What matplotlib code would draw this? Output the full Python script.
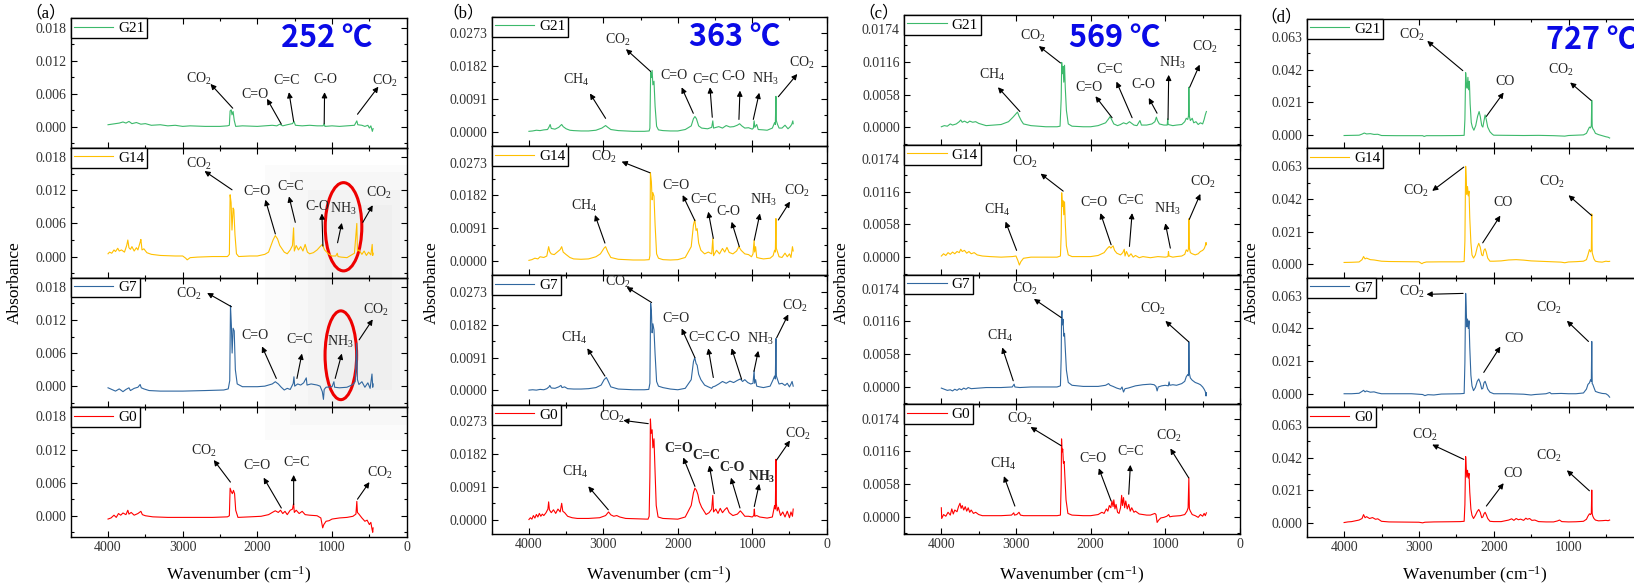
import numpy as np
import matplotlib
matplotlib.use("Agg")
import matplotlib.pyplot as plt
from matplotlib.patches import Ellipse, Rectangle
from matplotlib.ticker import MultipleLocator, FormatStrFormatter, FuncFormatter

plt.rcParams['font.family'] = ['Liberation Serif', 'Noto Sans CJK SC']
plt.rcParams['mathtext.fontset'] = 'custom'
plt.rcParams['mathtext.rm'] = 'Liberation Serif'
plt.rcParams['mathtext.it'] = 'Liberation Serif:italic'
plt.rcParams['mathtext.bf'] = 'Liberation Serif:bold'

# ---------------- spectra (wavenumber, absorbance) ----------------
# (a) 252 C
a_G21 = [(4000,0.0004),(3950,0.0005),(3900,0.0006),(3850,0.0007),(3800,0.0009),(3760,0.0007),(3720,0.0010),(3680,0.0006),(3620,0.0008),(3560,0.0005),(3500,0.0006),(3420,0.0003),(3300,0.0004),(3200,0.0002),(3100,0.0003),(3000,0.0001),(2900,0.0002),(2700,0.0001),(2500,0.0001),(2400,0.0002),(2375,0.0003),(2365,0.0029),(2350,0.0031),(2340,0.0022),(2325,0.0028),(2310,0.0012),(2290,0.0001),(2200,0.0002),(2000,0.0001),(1900,0.0002),(1800,0.0003),(1740,0.0002),(1700,0.0005),(1660,0.0002),(1600,0.0004),(1530,0.0006),(1510,0.0010),(1490,0.0003),(1400,0.0002),(1300,0.0003),(1200,0.0002),(1120,0.0002),(1105,0.0006),(1095,0.0001),(1000,0.0002),(900,0.0001),(800,0.0002),(700,0.0003),(668,0.0011),(655,0.0004),(600,0.0003),(560,0.0001),(520,0.0003),(500,-0.0002),(480,0.0002),(460,-0.0008),(450,-0.0003)]
a_G14 = [(4000,0.0005),(3980,0.0008),(3950,0.0006),(3920,0.0012),(3900,0.0009),(3870,0.0015),(3850,0.0010),(3820,0.0012),(3780,0.0008),(3750,0.0020),(3735,0.0030),(3720,0.0016),(3700,0.0013),(3680,0.0018),(3650,0.0010),(3620,0.0016),(3600,0.0012),(3570,0.0026),(3560,0.0031),(3545,0.0012),(3520,0.0014),(3480,0.0007),(3420,0.0004),(3300,0.0002),(3100,0.0001),(3000,0.0001),(2960,-0.0003),(2940,-0.0006),(2900,-0.0002),(2800,-0.0001),(2600,0.0000),(2400,0.0000),(2375,0.0004),(2365,0.0112),(2352,0.0098),(2340,0.0048),(2325,0.0088),(2315,0.0085),(2300,0.0040),(2280,0.0005),(2250,0.0000),(2100,0.0001),(2000,0.0001),(1900,0.0004),(1850,0.0008),(1790,0.0030),(1760,0.0038),(1730,0.0032),(1700,0.0020),(1670,0.0014),(1640,0.0008),(1600,0.0005),(1560,0.0012),(1530,0.0020),(1515,0.0052),(1505,0.0010),(1480,0.0020),(1450,0.0012),(1420,0.0018),(1390,0.0010),(1360,0.0022),(1330,0.0008),(1300,0.0005),(1250,0.0007),(1200,0.0012),(1160,0.0018),(1130,0.0022),(1100,0.0012),(1050,0.0005),(1000,0.0001),(950,0.0001),(930,0.0006),(920,0.0000),(880,-0.0001),(800,-0.0002),(750,0.0002),(700,0.0006),(668,0.0060),(660,0.0010),(640,0.0012),(600,0.0004),(570,0.0010),(540,0.0002),(510,0.0008),(480,0.0003),(462,0.0022),(455,0.0002),(450,0.0006)]
a_G7 = [(4000,-0.0003),(3950,-0.0006),(3900,-0.0009),(3850,-0.0005),(3800,-0.0010),(3760,-0.0006),(3720,-0.0003),(3700,-0.0008),(3650,-0.0004),(3600,-0.0002),(3570,0.0003),(3555,-0.0003),(3520,-0.0005),(3450,-0.0008),(3300,-0.0009),(3000,-0.0009),(2700,-0.0008),(2450,-0.0007),(2390,-0.0005),(2370,0.0010),(2360,0.0146),(2348,0.0110),(2338,0.0060),(2325,0.0105),(2310,0.0100),(2295,0.0030),(2270,0.0004),(2200,-0.0001),(2000,-0.0001),(1900,0.0000),(1800,0.0004),(1760,0.0008),(1720,0.0004),(1680,-0.0002),(1640,-0.0007),(1600,-0.0004),(1560,-0.0006),(1520,0.0005),(1510,0.0017),(1500,0.0000),(1460,0.0004),(1420,0.0002),(1380,0.0006),(1345,0.0015),(1335,0.0002),(1280,0.0004),(1200,0.0002),(1160,0.0000),(1130,-0.0010),(1115,-0.0024),(1105,-0.0006),(1080,-0.0002),(1000,-0.0001),(975,0.0008),(965,-0.0002),(900,-0.0003),(800,-0.0002),(720,0.0003),(690,0.0008),(668,0.0078),(660,0.0012),(640,0.0003),(600,0.0008),(560,-0.0002),(520,0.0006),(490,-0.0004),(465,0.0022),(455,-0.0002),(450,0.0004)]
a_G0 = [(4000,-0.0006),(3960,-0.0004),(3920,0.0001),(3890,-0.0003),(3860,0.0004),(3830,0.0001),(3800,0.0005),(3760,0.0002),(3735,0.0010),(3720,0.0003),(3690,0.0006),(3650,0.0001),(3600,0.0004),(3560,0.0008),(3540,0.0002),(3500,0.0000),(3400,-0.0002),(3200,-0.0003),(3000,-0.0003),(2800,-0.0003),(2600,-0.0003),(2400,-0.0002),(2375,0.0000),(2365,0.0050),(2350,0.0044),(2335,0.0040),(2320,0.0046),(2305,0.0040),(2290,0.0010),(2260,-0.0003),(2100,-0.0002),(1950,-0.0001),(1850,0.0002),(1800,0.0006),(1760,0.0009),(1720,0.0006),(1690,0.0010),(1660,0.0004),(1630,0.0008),(1600,0.0002),(1560,0.0010),(1530,0.0012),(1515,0.0022),(1505,0.0006),(1480,0.0010),(1440,0.0004),(1400,0.0008),(1360,0.0002),(1300,0.0001),(1200,0.0000),(1150,-0.0004),(1125,-0.0022),(1110,-0.0016),(1080,-0.0010),(1040,-0.0009),(1000,-0.0006),(950,-0.0005),(900,-0.0004),(800,-0.0003),(720,-0.0001),(680,0.0003),(668,0.0026),(660,0.0006),(640,0.0003),(600,-0.0004),(560,-0.0010),(530,-0.0008),(500,-0.0016),(480,-0.0012),(465,-0.0024),(455,-0.0030),(450,-0.0022)]

# (b) 363 C
b_G21 = [(4000,0.0001),(3950,0.0002),(3900,0.0004),(3850,0.0003),(3800,0.0005),(3750,0.0006),(3730,0.0013),(3715,0.0020),(3700,0.0009),(3650,0.0007),(3600,0.0012),(3560,0.0020),(3540,0.0014),(3500,0.0008),(3450,0.0004),(3400,0.0003),(3300,0.0002),(3200,0.0002),(3100,0.0004),(3020,0.0010),(2970,0.0017),(2940,0.0012),(2900,0.0006),(2800,0.0003),(2600,0.0001),(2450,0.0001),(2385,0.0002),(2375,0.0010),(2365,0.0165),(2355,0.0150),(2345,0.0170),(2335,0.0130),(2320,0.0140),(2305,0.0070),(2285,0.0015),(2260,0.0005),(2200,0.0003),(2100,0.0002),(2000,0.0002),(1900,0.0006),(1820,0.0016),(1790,0.0036),(1770,0.0042),(1750,0.0036),(1720,0.0016),(1680,0.0010),(1600,0.0008),(1545,0.0012),(1530,0.0030),(1520,0.0010),(1450,0.0014),(1400,0.0010),(1350,0.0017),(1300,0.0013),(1250,0.0014),(1200,0.0018),(1170,0.0022),(1140,0.0016),(1100,0.0010),(1050,0.0011),(1000,0.0007),(985,0.0010),(975,0.0030),(965,0.0012),(940,0.0020),(920,0.0006),(850,0.0005),(800,0.0004),(730,0.0010),(700,0.0025),(690,0.0020),(682,0.0098),(676,0.0030),(660,0.0020),(640,0.0010),(600,0.0010),(560,0.0018),(520,0.0008),(490,0.0014),(470,0.0020),(455,0.0030),(450,0.0022)]
b_G14 = [(4000,0.0002),(3960,0.0004),(3920,0.0008),(3880,0.0006),(3850,0.0012),(3800,0.0010),(3760,0.0014),(3735,0.0040),(3720,0.0026),(3700,0.0020),(3660,0.0018),(3620,0.0025),(3580,0.0032),(3560,0.0040),(3540,0.0025),(3500,0.0018),(3450,0.0010),(3400,0.0006),(3300,0.0005),(3200,0.0006),(3100,0.0012),(3040,0.0020),(2990,0.0036),(2970,0.0040),(2940,0.0025),(2900,0.0010),(2800,0.0005),(2600,0.0003),(2450,0.0003),(2385,0.0004),(2375,0.0015),(2368,0.0245),(2355,0.0220),(2345,0.0170),(2335,0.0190),(2320,0.0180),(2305,0.0100),(2285,0.0020),(2260,0.0008),(2200,0.0004),(2100,0.0003),(2000,0.0004),(1900,0.0010),(1820,0.0040),(1790,0.0100),(1772,0.0115),(1755,0.0085),(1740,0.0090),(1720,0.0050),(1690,0.0030),(1640,0.0020),(1590,0.0025),(1545,0.0020),(1530,0.0063),(1520,0.0015),(1480,0.0030),(1440,0.0020),(1400,0.0035),(1370,0.0025),(1340,0.0038),(1310,0.0024),(1260,0.0020),(1210,0.0028),(1180,0.0040),(1150,0.0030),(1100,0.0020),(1050,0.0018),(1010,0.0012),(990,0.0020),(975,0.0058),(968,0.0025),(955,0.0040),(940,0.0010),(900,0.0008),(850,0.0006),(760,0.0008),(720,0.0015),(700,0.0030),(690,0.0025),(682,0.0118),(676,0.0035),(660,0.0025),(640,0.0012),(600,0.0010),(560,0.0022),(530,0.0012),(500,0.0020),(480,0.0010),(460,0.0040),(450,0.0028)]
b_G7 = [(4000,0.0001),(3950,0.0002),(3900,0.0001),(3850,0.0003),(3800,0.0002),(3760,0.0005),(3730,0.0010),(3720,0.0014),(3700,0.0007),(3650,0.0006),(3600,0.0010),(3570,0.0014),(3555,0.0008),(3520,0.0010),(3480,0.0005),(3400,0.0004),(3300,0.0004),(3200,0.0005),(3100,0.0008),(3030,0.0015),(2990,0.0030),(2960,0.0036),(2940,0.0028),(2900,0.0010),(2800,0.0004),(2600,0.0002),(2450,0.0002),(2390,0.0003),(2375,0.0020),(2365,0.0242),(2355,0.0220),(2345,0.0160),(2335,0.0185),(2320,0.0168),(2305,0.0100),(2285,0.0025),(2260,0.0012),(2200,0.0008),(2100,0.0004),(2000,0.0002),(1900,0.0006),(1820,0.0030),(1790,0.0080),(1772,0.0091),(1755,0.0075),(1740,0.0070),(1720,0.0045),(1690,0.0030),(1640,0.0015),(1590,0.0010),(1545,0.0006),(1530,0.0010),(1500,0.0012),(1450,0.0018),(1400,0.0025),(1350,0.0020),(1300,0.0026),(1250,0.0022),(1200,0.0028),(1160,0.0032),(1130,0.0025),(1100,0.0030),(1060,0.0022),(1020,0.0018),(990,0.0020),(975,0.0055),(968,0.0020),(955,0.0030),(940,0.0012),(900,0.0010),(850,0.0008),(760,0.0012),(720,0.0030),(700,0.0040),(690,0.0032),(682,0.0144),(676,0.0040),(660,0.0030),(640,0.0018),(600,0.0020),(560,0.0014),(530,0.0020),(500,0.0010),(480,0.0018),(465,0.0025),(450,0.0012)]
b_G0 = [(4000,0.0001),(3980,0.0006),(3960,0.0002),(3940,0.0012),(3920,0.0005),(3900,0.0015),(3880,0.0008),(3860,0.0018),(3840,0.0010),(3820,0.0016),(3800,0.0012),(3770,0.0020),(3745,0.0030),(3735,0.0050),(3725,0.0028),(3700,0.0020),(3670,0.0028),(3640,0.0018),(3610,0.0030),(3580,0.0022),(3560,0.0046),(3545,0.0024),(3520,0.0020),(3480,0.0010),(3420,0.0006),(3350,0.0004),(3200,0.0004),(3050,0.0006),(2970,0.0012),(2930,0.0022),(2900,0.0014),(2860,0.0010),(2820,0.0012),(2780,0.0008),(2700,0.0004),(2550,0.0003),(2400,0.0002),(2385,0.0010),(2375,0.0120),(2368,0.0280),(2358,0.0240),(2345,0.0250),(2335,0.0200),(2320,0.0225),(2305,0.0130),(2290,0.0040),(2265,0.0008),(2200,0.0004),(2100,0.0003),(2000,0.0002),(1900,0.0008),(1820,0.0040),(1790,0.0075),(1770,0.0088),(1750,0.0082),(1730,0.0070),(1710,0.0050),(1680,0.0035),(1650,0.0025),(1620,0.0015),(1580,0.0020),(1545,0.0030),(1530,0.0068),(1520,0.0022),(1490,0.0030),(1460,0.0018),(1430,0.0032),(1400,0.0020),(1370,0.0028),(1340,0.0034),(1310,0.0020),(1260,0.0012),(1200,0.0016),(1160,0.0025),(1130,0.0018),(1100,0.0010),(1050,0.0010),(1000,0.0008),(980,0.0012),(972,0.0030),(965,0.0010),(940,0.0012),(900,0.0008),(800,0.0005),(730,0.0008),(700,0.0040),(690,0.0030),(682,0.0168),(676,0.0045),(665,0.0025),(650,0.0035),(620,0.0012),(590,0.0022),(560,0.0008),(530,0.0024),(500,0.0006),(480,0.0022),(460,0.0010),(450,0.0030)]

# (c) 569 C
c_G21 = [(4000,0.0001),(3960,0.0003),(3920,0.0002),(3880,0.0006),(3850,0.0004),(3800,0.0006),(3760,0.0010),(3740,0.0013),(3720,0.0009),(3690,0.0011),(3650,0.0008),(3620,0.0011),(3580,0.0009),(3540,0.0010),(3500,0.0007),(3450,0.0005),(3400,0.0003),(3300,0.0004),(3200,0.0005),(3100,0.0010),(3040,0.0018),(3000,0.0024),(2980,0.0027),(2960,0.0020),(2930,0.0012),(2900,0.0006),(2800,0.0003),(2600,0.0001),(2450,0.0001),(2410,0.0002),(2395,0.0050),(2388,0.0115),(2378,0.0095),(2370,0.0108),(2360,0.0080),(2350,0.0110),(2340,0.0070),(2325,0.0030),(2300,0.0006),(2250,0.0002),(2100,0.0001),(2000,0.0001),(1900,0.0003),(1800,0.0008),(1760,0.0015),(1740,0.0019),(1720,0.0014),(1690,0.0006),(1640,0.0003),(1600,0.0005),(1560,0.0008),(1520,0.0006),(1480,0.0010),(1460,0.0008),(1420,0.0004),(1380,0.0003),(1340,0.0012),(1320,0.0004),(1250,0.0004),(1180,0.0006),(1140,0.0010),(1120,0.0018),(1105,0.0012),(1080,0.0006),(1020,0.0004),(975,0.0004),(968,0.0015),(962,0.0005),(900,0.0003),(850,0.0004),(780,0.0005),(740,0.0010),(720,0.0016),(700,0.0014),(690,0.0020),(685,0.0071),(678,0.0020),(665,0.0012),(640,0.0016),(620,0.0008),(590,0.0010),(560,0.0005),(530,0.0008),(500,0.0006),(480,0.0014),(465,0.0022),(450,0.0028)]
c_G14 = [(4000,0.0002),(3970,0.0006),(3940,0.0003),(3910,0.0008),(3880,0.0005),(3850,0.0009),(3820,0.0006),(3790,0.0010),(3760,0.0008),(3740,0.0014),(3720,0.0010),(3690,0.0012),(3660,0.0007),(3630,0.0010),(3600,0.0006),(3560,0.0008),(3520,0.0004),(3450,0.0002),(3350,0.0001),(3200,0.0000),(3050,0.0001),(3000,0.0002),(2975,-0.0006),(2955,-0.0014),(2935,-0.0008),(2900,-0.0002),(2800,0.0000),(2600,0.0000),(2450,0.0000),(2405,0.0002),(2395,0.0040),(2388,0.0114),(2378,0.0090),(2370,0.0100),(2360,0.0075),(2350,0.0098),(2340,0.0060),(2325,0.0020),(2300,0.0004),(2250,0.0001),(2100,0.0001),(2000,0.0001),(1900,0.0003),(1820,0.0008),(1780,0.0015),(1750,0.0019),(1730,0.0016),(1700,0.0020),(1680,0.0012),(1650,0.0007),(1600,0.0004),(1570,0.0008),(1550,0.0014),(1540,0.0002),(1520,0.0010),(1490,0.0001),(1460,0.0006),(1430,0.0000),(1400,0.0003),(1350,-0.0001),(1300,0.0001),(1200,-0.0001),(1100,0.0001),(1000,0.0000),(965,0.0001),(958,0.0010),(950,0.0002),(900,0.0000),(850,0.0001),(780,0.0002),(740,0.0005),(720,0.0013),(700,0.0010),(690,0.0015),(685,0.0068),(678,0.0016),(665,0.0008),(640,0.0006),(600,0.0004),(560,0.0006),(530,0.0010),(500,0.0012),(480,0.0015),(465,0.0020),(455,0.0026),(450,0.0022)]
c_G7 = [(4000,-0.0002),(3960,-0.0004),(3920,-0.0006),(3880,-0.0005),(3850,-0.0007),(3820,-0.0004),(3790,-0.0006),(3760,-0.0003),(3730,-0.0005),(3700,-0.0002),(3670,-0.0004),(3640,-0.0001),(3600,-0.0003),(3500,-0.0002),(3400,-0.0001),(3200,-0.0001),(3050,0.0000),(3025,0.0005),(3015,0.0000),(2950,-0.0001),(2800,0.0000),(2600,0.0000),(2450,0.0000),(2405,0.0002),(2395,0.0050),(2390,0.0126),(2385,0.0135),(2378,0.0110),(2370,0.0120),(2360,0.0090),(2350,0.0095),(2340,0.0068),(2325,0.0030),(2300,0.0008),(2250,0.0003),(2100,0.0001),(2000,0.0001),(1900,0.0001),(1800,0.0003),(1760,0.0006),(1740,0.0003),(1700,0.0001),(1650,-0.0002),(1600,-0.0004),(1580,0.0000),(1560,-0.0009),(1540,-0.0003),(1500,-0.0002),(1450,0.0000),(1400,0.0002),(1300,0.0004),(1200,0.0005),(1150,0.0004),(1125,0.0001),(1110,-0.0007),(1095,0.0000),(1050,0.0002),(1000,0.0003),(960,0.0002),(950,0.0009),(940,0.0003),(900,0.0004),(850,0.0003),(780,0.0006),(740,0.0010),(720,0.0018),(700,0.0022),(690,0.0020),(685,0.0080),(678,0.0024),(665,0.0016),(640,0.0012),(600,0.0008),(560,0.0006),(530,0.0004),(500,0.0000),(480,-0.0004),(465,-0.0008),(455,-0.0016),(450,-0.0010)]
c_G0 = [(4000,0.0016),(3995,-0.0003),(3970,0.0004),(3940,0.0001),(3910,0.0008),(3880,0.0003),(3860,0.0014),(3840,0.0005),(3820,0.0012),(3790,0.0009),(3770,0.0018),(3750,0.0024),(3735,0.0015),(3720,0.0020),(3700,0.0012),(3680,0.0018),(3660,0.0010),(3640,0.0016),(3620,0.0008),(3600,0.0012),(3570,0.0006),(3540,0.0008),(3500,0.0004),(3450,0.0002),(3350,0.0002),(3200,0.0002),(3060,0.0003),(3030,0.0007),(3020,0.0003),(2990,0.0004),(2960,0.0008),(2940,0.0003),(2900,0.0002),(2800,0.0002),(2600,0.0002),(2450,0.0002),(2405,0.0003),(2395,0.0060),(2390,0.0138),(2382,0.0115),(2374,0.0120),(2365,0.0095),(2355,0.0098),(2345,0.0070),(2330,0.0030),(2305,0.0006),(2250,0.0003),(2100,0.0002),(2000,0.0002),(1900,0.0004),(1850,0.0008),(1820,0.0006),(1790,0.0014),(1770,0.0010),(1750,0.0020),(1730,0.0016),(1715,0.0028),(1700,0.0018),(1690,0.0030),(1675,0.0014),(1660,0.0022),(1640,0.0008),(1620,0.0006),(1600,0.0016),(1585,0.0038),(1575,0.0020),(1560,0.0034),(1545,0.0016),(1530,0.0028),(1510,0.0014),(1490,0.0022),(1470,0.0010),(1450,0.0016),(1420,0.0008),(1400,0.0010),(1350,0.0005),(1300,0.0004),(1250,0.0003),(1200,0.0003),(1140,0.0006),(1125,0.0004),(1110,-0.0010),(1090,-0.0006),(1060,-0.0002),(1020,-0.0001),(980,0.0001),(955,0.0004),(940,0.0000),(900,0.0001),(800,0.0002),(740,0.0004),(710,0.0010),(695,0.0016),(685,0.0069),(678,0.0014),(665,0.0010),(640,0.0004),(600,0.0002),(560,-0.0001),(530,0.0004),(500,0.0001),(480,0.0006),(465,0.0002),(450,0.0007)]

# (d) 727 C
d_G21 = [(4000,-0.0004),(3900,-0.0003),(3800,-0.0002),(3760,0.0005),(3730,0.0012),(3700,0.0006),(3650,0.0008),(3600,0.0003),(3550,0.0004),(3500,-0.0004),(3300,-0.0005),(3100,-0.0005),(2950,-0.0005),(2930,-0.0010),(2900,-0.0005),(2700,-0.0005),(2450,-0.0004),(2395,-0.0003),(2385,0.0100),(2375,0.0400),(2365,0.0330),(2355,0.0300),(2345,0.0370),(2335,0.0290),(2325,0.0345),(2315,0.0200),(2300,0.0080),(2285,0.0050),(2265,0.0030),(2240,0.0060),(2215,0.0120),(2195,0.0150),(2180,0.0120),(2160,0.0060),(2145,0.0050),(2130,0.0090),(2115,0.0128),(2100,0.0100),(2080,0.0050),(2050,0.0020),(2020,0.0005),(2000,-0.0002),(1800,-0.0003),(1600,-0.0004),(1400,-0.0003),(1200,-0.0005),(1050,-0.0008),(1000,-0.0004),(900,-0.0002),(800,0.0000),(760,0.0010),(740,0.0030),(720,0.0050),(705,0.0045),(695,0.0060),(689,0.0222),(683,0.0055),(675,0.0040),(660,0.0030),(640,0.0010),(600,0.0002),(550,-0.0005),(500,-0.0012),(470,-0.0015),(450,-0.0020)]
d_G14 = [(4000,0.0012),(3900,0.0013),(3800,0.0015),(3760,0.0030),(3740,0.0050),(3720,0.0035),(3700,0.0040),(3650,0.0030),(3600,0.0028),(3550,0.0024),(3500,0.0020),(3400,0.0018),(3200,0.0017),(3000,0.0016),(2960,0.0004),(2940,0.0010),(2900,0.0015),(2700,0.0016),(2450,0.0016),(2395,0.0018),(2385,0.0150),(2375,0.0630),(2368,0.0560),(2360,0.0450),(2350,0.0500),(2340,0.0440),(2330,0.0470),(2320,0.0300),(2305,0.0140),(2290,0.0060),(2270,0.0040),(2245,0.0060),(2220,0.0110),(2200,0.0135),(2180,0.0110),(2160,0.0060),(2145,0.0055),(2130,0.0090),(2115,0.0100),(2100,0.0080),(2080,0.0040),(2050,0.0020),(2000,0.0020),(1900,0.0022),(1800,0.0028),(1700,0.0030),(1600,0.0027),(1500,0.0022),(1400,0.0020),(1300,0.0018),(1200,0.0016),(1100,0.0014),(1050,0.0010),(1000,0.0015),(900,0.0017),(800,0.0020),(760,0.0030),(740,0.0060),(720,0.0095),(705,0.0080),(695,0.0090),(689,0.0324),(683,0.0075),(675,0.0060),(660,0.0035),(640,0.0020),(600,0.0016),(550,0.0014),(500,0.0020),(470,0.0018),(450,0.0019)]
d_G7 = [(4000,0.0000),(3900,0.0000),(3800,0.0003),(3760,0.0015),(3740,0.0022),(3720,0.0012),(3700,0.0018),(3650,0.0010),(3600,0.0012),(3550,0.0005),(3500,0.0000),(3300,0.0000),(3100,0.0000),(2950,-0.0005),(2920,-0.0012),(2880,-0.0006),(2800,-0.0008),(2700,-0.0002),(2450,0.0000),(2395,0.0002),(2385,0.0200),(2375,0.0645),(2368,0.0560),(2360,0.0430),(2350,0.0480),(2340,0.0420),(2330,0.0469),(2320,0.0300),(2305,0.0120),(2290,0.0050),(2270,0.0020),(2245,0.0040),(2220,0.0080),(2200,0.0095),(2180,0.0070),(2160,0.0030),(2145,0.0035),(2130,0.0070),(2115,0.0080),(2100,0.0060),(2080,0.0030),(2050,0.0010),(2000,0.0000),(1800,0.0000),(1600,-0.0003),(1500,-0.0008),(1450,-0.0005),(1300,0.0000),(1250,0.0008),(1230,0.0000),(1100,0.0002),(1000,0.0000),(900,0.0000),(800,0.0005),(760,0.0030),(740,0.0060),(720,0.0070),(705,0.0090),(695,0.0080),(689,0.0336),(683,0.0065),(675,0.0060),(660,0.0040),(640,0.0015),(600,0.0008),(550,0.0002),(500,0.0000),(470,-0.0010),(450,-0.0022)]
d_G0 = [(4000,0.0004),(3950,0.0008),(3900,0.0010),(3850,0.0015),(3800,0.0020),(3760,0.0030),(3740,0.0055),(3720,0.0035),(3700,0.0042),(3660,0.0030),(3620,0.0036),(3580,0.0025),(3550,0.0028),(3500,0.0012),(3400,0.0008),(3200,0.0007),(3000,0.0006),(2950,0.0002),(2920,0.0006),(2800,0.0008),(2600,0.0009),(2450,0.0010),(2395,0.0012),(2385,0.0120),(2375,0.0428),(2368,0.0360),(2360,0.0296),(2350,0.0340),(2340,0.0290),(2330,0.0320),(2320,0.0200),(2305,0.0090),(2290,0.0050),(2270,0.0030),(2245,0.0050),(2220,0.0075),(2200,0.0088),(2180,0.0070),(2160,0.0035),(2145,0.0040),(2130,0.0060),(2115,0.0070),(2100,0.0055),(2080,0.0030),(2050,0.0012),(2000,0.0010),(1900,0.0010),(1850,0.0015),(1800,0.0020),(1760,0.0028),(1730,0.0018),(1700,0.0030),(1670,0.0022),(1640,0.0026),(1600,0.0018),(1570,0.0032),(1550,0.0025),(1520,0.0030),(1490,0.0018),(1450,0.0020),(1400,0.0010),(1300,0.0008),(1200,0.0008),(1150,0.0014),(1120,0.0020),(1090,0.0010),(1000,0.0008),(900,0.0009),(800,0.0012),(760,0.0025),(740,0.0045),(720,0.0060),(705,0.0055),(695,0.0065),(689,0.0213),(683,0.0060),(675,0.0045),(660,0.0030),(640,0.0020),(600,0.0015),(550,0.0016),(500,0.0018),(470,0.0016),(450,0.0020)]

samples = ['G21', 'G14', 'G7', 'G0']
temps = ['252 ℃', '363 ℃', '569 ℃', '727 ℃']
tags = ['（a）', '（b）', '（c）', '（d）']
spectra = [[a_G21, a_G14, a_G7, a_G0],
           [b_G21, b_G14, b_G7, b_G0],
           [c_G21, c_G14, c_G7, c_G0],
           [d_G21, d_G14, d_G7, d_G0]]

# ---------------- peak labels: (text, text x, text y, peak x, peak y, arrow tip x, arrow tip y, bold) ----------------
CO2, CH4, NH3 = 'CO$_2$', 'CH$_4$', 'NH$_3$'
labels = [
    [  # (a)
        [(CO2, 2784, 0.0087, 2330, 0.0034, 2628, 0.0078), ('C=O', 2027, 0.0059, 1679, 0.0005, 1871, 0.0051),
         ('C=C', 1612, 0.0084, 1514, 0.0010, 1577, 0.0063), ('C-O', 1091, 0.0086, 1105, 0.0006, 1100, 0.0063),
         (CO2, 290, 0.0084, 659, 0.0023, 379, 0.0073)],
        [(CO2, 2784, 0.0168, 2339, 0.0121, 2708, 0.0155), ('C=O', 2004, 0.0118, 1759, 0.0041, 1893, 0.0103),
         ('C=C', 1550, 0.0127, 1492, 0.0062, 1577, 0.0109), ('C-O', 1203, 0.0090, 1122, 0.0019, 1136, 0.0078),
         (NH3, 846, 0.0087, 926, 0.0025, 869, 0.0061), (CO2, 379, 0.0116, 588, 0.0062, 455, 0.0093)],
        [(CO2, 2918, 0.0167, 2347, 0.0144, 2673, 0.0169), ('C=O', 2027, 0.0091, 1746, 0.0014, 1938, 0.0072),
         ('C=C', 1434, 0.0085, 1470, 0.0014, 1403, 0.0059), (NH3, 891, 0.0080, 958, 0.0014, 869, 0.0059),
         (CO2, 410, 0.0139, 637, 0.0084, 455, 0.0121)],
        [(CO2, 2717, 0.0118, 2361, 0.0061, 2584, 0.0101), ('C=O', 2004, 0.0091, 1679, 0.0014, 1916, 0.0069),
         ('C=C', 1479, 0.0097, 1514, 0.0020, 1514, 0.0074), (CO2, 356, 0.0078, 659, 0.0030, 499, 0.0061)],
    ],
    [  # (b)
        [(CH4, 3360, 0.0143, 2970, 0.0037, 3180, 0.0106), (CO2, 2800, 0.0254, 2365, 0.0167, 2697, 0.0229),
         ('C=O', 2047, 0.0157, 1792, 0.0051, 1949, 0.0123), ('C=C', 1622, 0.0145, 1537, 0.0040, 1568, 0.0123),
         ('C-O', 1255, 0.0153, 1179, 0.0034, 1165, 0.0114), (NH3, 829, 0.0145, 986, 0.0034, 906, 0.0108),
         (CO2, 337, 0.0192, 650, 0.0097, 395, 0.0160)],
        [(CH4, 3257, 0.0153, 2979, 0.0050, 3113, 0.0128), (CO2, 2992, 0.0290, 2374, 0.0245, 2755, 0.0276),
         ('C=O', 2025, 0.0211, 1770, 0.0112, 1935, 0.0183), ('C=C', 1658, 0.0171, 1523, 0.0063, 1591, 0.0137),
         ('C-O', 1322, 0.0137, 1174, 0.0040, 1277, 0.0109), (NH3, 852, 0.0169, 973, 0.0058, 897, 0.0132),
         (CO2, 404, 0.0195, 650, 0.0114, 493, 0.0165)],
        [(CH4, 3395, 0.0146, 2979, 0.0040, 3216, 0.0117), (CO2, 2800, 0.0302, 2352, 0.0244, 2688, 0.0287),
         ('C=O', 2025, 0.0199, 1770, 0.0091, 1949, 0.0172), ('C=C', 1680, 0.0148, 1523, 0.0036, 1591, 0.0117),
         ('C-O', 1322, 0.0146, 1143, 0.0031, 1277, 0.0117), (NH3, 897, 0.0142, 977, 0.0053, 919, 0.0110),
         (CO2, 426, 0.0235, 673, 0.0146, 516, 0.0211)],
        [(CH4, 3382, 0.0133, 2934, 0.0028, 3203, 0.0093), (CO2, 2889, 0.0285, 2397, 0.0267, 2733, 0.0276),
         ('C=O', 1994, 0.0198, 1770, 0.0093, 1927, 0.0173, True), ('C=C', 1613, 0.0178, 1510, 0.0073, 1577, 0.0151, True),
         ('C-O', 1277, 0.0145, 1165, 0.0033, 1286, 0.0117, True), ('NH$_\\mathbf{3}$', 874, 0.0120, 973, 0.0037, 906, 0.0100, True),
         (CO2, 382, 0.0238, 673, 0.0166, 493, 0.0220)],
    ],
    [  # (c)
        [(CH4, 3318, 0.0093, 2948, 0.0028, 3242, 0.0071), (CO2, 2770, 0.0161, 2404, 0.0114, 2694, 0.0144),
         ('C=O', 2025, 0.0070, 1713, 0.0017, 1936, 0.0055), ('C=C', 1744, 0.0102, 1445, 0.0017, 1655, 0.0081),
         ('C-O', 1298, 0.0076, 1111, 0.0025, 1222, 0.0052), (NH3, 910, 0.0114, 964, 0.0014, 955, 0.0093),
         (CO2, 465, 0.0143, 674, 0.0071, 540, 0.0111)],
        [(CH4, 3251, 0.0083, 2992, 0.0012, 3140, 0.0063), (CO2, 2885, 0.0168, 2368, 0.0117, 2671, 0.0148),
         ('C=O', 1958, 0.0097, 1726, 0.0022, 1869, 0.0078), ('C=C', 1459, 0.0100, 1481, 0.0019, 1445, 0.0078),
         (NH3, 977, 0.0085, 933, 0.0016, 1000, 0.0060), (CO2, 496, 0.0133, 679, 0.0067, 531, 0.0112)],
        [(CH4, 3206, 0.0091, 3037, 0.0011, 3184, 0.0070), (CO2, 2885, 0.0173, 2395, 0.0123, 2760, 0.0156),
         (CO2, 1165, 0.0138, 687, 0.0080, 1000, 0.0117)],
        [(CH4, 3171, 0.0094, 3015, 0.0019, 3162, 0.0072), (CO2, 2948, 0.0174, 2395, 0.0126, 2805, 0.0159),
         ('C=O', 1967, 0.0104, 1726, 0.0028, 1891, 0.0086), ('C=C', 1468, 0.0116, 1490, 0.0040, 1468, 0.0092),
         (CO2, 955, 0.0143, 687, 0.0069, 933, 0.0121)],
    ],
    [  # (d)
        [(CO2, 3089, 0.0641, 2413, 0.0413, 2889, 0.0604), ('CO', 1853, 0.0341, 2098, 0.0119, 1867, 0.0272),
         (CO2, 1102, 0.0417, 698, 0.0222, 978, 0.0337)],
        [(CO2, 3044, 0.0472, 2400, 0.0625, 2822, 0.0472), ('CO', 1876, 0.0400, 2147, 0.0138, 1911, 0.0313),
         (CO2, 1222, 0.0531, 689, 0.0313, 1000, 0.0444)],
        [(CO2, 3089, 0.0652, 2409, 0.0645, 2898, 0.0639), ('CO', 1733, 0.0358, 2133, 0.0137, 1911, 0.0303),
         (CO2, 1267, 0.0550, 733, 0.0336, 1022, 0.0469)],
        [(CO2, 2920, 0.0570, 2400, 0.0410, 2822, 0.0505), ('CO', 1742, 0.0322, 2098, 0.0110, 1867, 0.0257),
         (CO2, 1267, 0.0432, 720, 0.0208, 1022, 0.0340)],
    ],
]

# ---------------- layout ----------------
W, H = 1634, 588
colors = ['#3cb96b', '#ffc000', '#30679f', '#ff0000']
# column boxes in pixels: left, right, top, bottom
boxes = [(70.7, 406.7, 18.3, 536.7), (491.7, 826.7, 16.7, 534.3),
         (904, 1240, 15, 534.3), (1306.7, 1643.3, 19, 536.7)]
ylims = [(-0.0038, 0.0197), (-0.0040, 0.0319), (-0.0031, 0.0199), (-0.0087, 0.0745)]
ysteps = [0.006, 0.0091, 0.0058, 0.021]
yfmts = ['%.3f', '%.4f', '%.4f', '%.3f']
tag_pos = [(46, 13), (463, 13), (879, 13), (1281, 17)]
temp_pos = [(327, 38), (735, 37), (1115, 38), (1592, 40)]
ylab_x = [15, 432, 842, 1252]

fig = plt.figure(figsize=(W / 100, H / 100), dpi=100)

# soft grey smudge behind the right part of panel (a)
for (x0, y0, x1, y1) in [(265, 165, 407, 440), (290, 172, 407, 425), (308, 190, 400, 405), (325, 205, 392, 390)]:
    fig.add_artist(Rectangle((x0 / W, 1 - y1 / H), (x1 - x0) / W, (y1 - y0) / H,
                             transform=fig.transFigure, color='#808080', alpha=0.028, lw=0, zorder=-10))

xlab_d = FuncFormatter(lambda v, pos: '' if v < 500 else '%d' % v)

for ci in range(4):
    l, r, t, b = boxes[ci]
    ph = (b - t) / 4
    for ri in range(4):
        ax = fig.add_axes([l / W, 1 - (t + (ri + 1) * ph) / H, (r - l) / W, ph / H])
        ax.set_facecolor('none')
        xy = np.array(spectra[ci][ri])
        ax.plot(xy[:, 0], xy[:, 1], color=colors[ri], lw=0.8, label=samples[ri])
        ax.set_xlim(4500, 0)
        ax.set_ylim(*ylims[ci])
        ax.xaxis.set_major_locator(MultipleLocator(1000))
        ax.xaxis.set_minor_locator(MultipleLocator(500))
        if ci == 3:
            ax.xaxis.set_major_formatter(xlab_d)
        ax.yaxis.set_major_locator(MultipleLocator(ysteps[ci]))
        ax.yaxis.set_minor_locator(MultipleLocator(ysteps[ci] / 2))
        ax.yaxis.set_major_formatter(FormatStrFormatter(yfmts[ci]))
        ax.tick_params(which='both', direction='in', top=True, right=True, labelsize=10,
                       labelcolor='#333333', pad=3)
        ax.tick_params(which='major', length=4.5, width=0.8)
        ax.tick_params(which='minor', length=2.5, width=0.8)
        ax.tick_params(axis='x', labelbottom=(ri == 3))
        for sp in ax.spines.values():
            sp.set_linewidth(1.0)
        leg = ax.legend(loc='upper left', borderaxespad=0, fancybox=False, edgecolor='black',
                        framealpha=1, handlelength=2.6, handletextpad=0.3, borderpad=0.2, fontsize=11)
        leg.get_frame().set_linewidth(1.0)
        for item in labels[ci][ri]:
            txt, tx, ty, px, py, ax_, ay = item[:7]
            bold = len(item) > 7
            ax.annotate('', xy=(ax_, ay), xytext=(px, py),
                        arrowprops=dict(arrowstyle='-|>', color='black', lw=0.8,
                                        mutation_scale=8, shrinkA=0, shrinkB=0))
            ax.text(tx, ty, txt, ha='center', va='center', fontsize=10, color='#222222',
                    fontweight='bold' if bold else 'normal')
        if ci == 0 and ri in (1, 2):
            cx, cy, ew, eh = [(846, 0.0054, 490, 0.0160), (882, 0.0056, 423, 0.0161)][ri - 1]
            ax.add_patch(Ellipse((cx, cy), ew, eh, fill=False, edgecolor='#ee0000', lw=2.2))
    fig.text((l + r) / 2 / W, 1 - 575 / H, 'Wavenumber (cm$^{-1}$)', ha='center', va='center', fontsize=12.5)
    fig.text(ylab_x[ci] / W, 1 - 283 / H, 'Absorbance', rotation=90, ha='center', va='center', fontsize=12.5)
    fig.text(tag_pos[ci][0] / W, 1 - tag_pos[ci][1] / H, tags[ci], ha='center', va='center', fontsize=12)
    fig.text(temp_pos[ci][0] / W, 1 - temp_pos[ci][1] / H, temps[ci], ha='center', va='center',
             fontsize=22, fontweight='bold', color='#0a0ae6', family=['Noto Sans CJK SC', 'DejaVu Sans'])

fig.savefig('out.png', dpi=100)
